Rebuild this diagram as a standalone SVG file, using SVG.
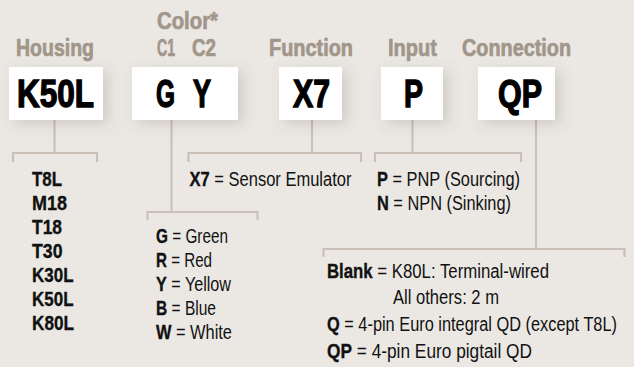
<svg xmlns="http://www.w3.org/2000/svg" width="634" height="367" viewBox="0 0 634 367">
<defs>
<filter id="sh" x="-40%" y="-60%" width="180%" height="220%">
<feGaussianBlur in="SourceAlpha" stdDeviation="7"/>
<feOffset dx="5" dy="4" result="b"/>
<feFlood flood-color="#6b5e50" flood-opacity="0.22"/>
<feComposite in2="b" operator="in"/>
<feMerge><feMergeNode/><feMergeNode in="SourceGraphic"/></feMerge>
</filter>
<style>
text{font-family:"Liberation Sans Narrow","Liberation Sans",Arial,sans-serif}
.hd{font-size:24px;font-weight:bold;fill:#a1968a;stroke:#a1968a;stroke-width:0.7}
.box{fill:#ffffff;filter:url(#sh)}
.code{font-size:39px;font-weight:bold;fill:#000;stroke:#000;stroke-width:1.4;text-anchor:middle}
.it{font-size:20px;fill:#111}
.b{font-weight:bold;stroke:#111;stroke-width:0.35}
.ln{fill:none;stroke:#c9c1b8;stroke-width:2.2}
</style>
</defs>
<rect width="634" height="367" fill="#ebe8e4"/>

<g id="connectors">
<path class="ln" d="M54.5 120V153M13 162V153H97V162"/>
<path class="ln" d="M171.5 120V212M147.5 220V212H257.5V220"/>
<path class="ln" d="M312 120V153M188.5 162V153H361V162"/>
<path class="ln" d="M412.5 120V153M375 162V153H521V162"/>
<path class="ln" d="M536 120V249M323.5 257V249H624.5V257"/>
</g>

<g id="housing">
<text class="hd" x="16" y="56" textLength="78" lengthAdjust="spacingAndGlyphs">Housing</text>
<rect class="box" x="9" y="67" width="94" height="53"/>
<text class="code" x="55.5" y="107" textLength="77" lengthAdjust="spacingAndGlyphs">K50L</text>
<text class="it b" x="32" y="186" textLength="30" lengthAdjust="spacingAndGlyphs">T8L</text>
<text class="it b" x="32" y="210" textLength="35" lengthAdjust="spacingAndGlyphs">M18</text>
<text class="it b" x="32" y="234" textLength="30" lengthAdjust="spacingAndGlyphs">T18</text>
<text class="it b" x="32" y="258" textLength="30.5" lengthAdjust="spacingAndGlyphs">T30</text>
<text class="it b" x="32" y="282" textLength="41.5" lengthAdjust="spacingAndGlyphs">K30L</text>
<text class="it b" x="32" y="306" textLength="41.5" lengthAdjust="spacingAndGlyphs">K50L</text>
<text class="it b" x="32" y="330" textLength="42" lengthAdjust="spacingAndGlyphs">K80L</text>
</g>

<g id="color">
<text class="hd" x="157" y="29" textLength="61" lengthAdjust="spacingAndGlyphs">Color*</text>
<text class="hd" x="157" y="56" textLength="18" lengthAdjust="spacingAndGlyphs">C1</text>
<text class="hd" x="192" y="56" textLength="24" lengthAdjust="spacingAndGlyphs">C2</text>
<rect class="box" x="132" y="67" width="106" height="53"/>
<text class="code" x="165.5" y="107" textLength="19" lengthAdjust="spacingAndGlyphs">G</text>
<text class="code" x="202" y="107" textLength="18" lengthAdjust="spacingAndGlyphs">Y</text>
<text class="it" x="156" y="243" textLength="72" lengthAdjust="spacingAndGlyphs"><tspan class="b">G</tspan> = Green</text>
<text class="it" x="156" y="267" textLength="56" lengthAdjust="spacingAndGlyphs"><tspan class="b">R</tspan> = Red</text>
<text class="it" x="156" y="291" textLength="75" lengthAdjust="spacingAndGlyphs"><tspan class="b">Y</tspan> = Yellow</text>
<text class="it" x="156" y="315" textLength="60" lengthAdjust="spacingAndGlyphs"><tspan class="b">B</tspan> = Blue</text>
<text class="it" x="156" y="339" textLength="76" lengthAdjust="spacingAndGlyphs"><tspan class="b">W</tspan> = White</text>
</g>

<g id="function">
<text class="hd" x="269" y="56" textLength="84" lengthAdjust="spacingAndGlyphs">Function</text>
<rect class="box" x="279" y="67" width="63" height="53"/>
<text class="code" x="311.5" y="107" textLength="37" lengthAdjust="spacingAndGlyphs">X7</text>
<text class="it" x="189.5" y="186" textLength="162" lengthAdjust="spacingAndGlyphs"><tspan class="b">X7</tspan> = Sensor Emulator</text>
</g>

<g id="input">
<text class="hd" x="388" y="56" textLength="49" lengthAdjust="spacingAndGlyphs">Input</text>
<rect class="box" x="381" y="67" width="62" height="53"/>
<text class="code" x="413.5" y="107" textLength="19" lengthAdjust="spacingAndGlyphs">P</text>
<text class="it" x="377" y="186" textLength="143" lengthAdjust="spacingAndGlyphs"><tspan class="b">P</tspan> = PNP (Sourcing)</text>
<text class="it" x="377" y="210" textLength="134" lengthAdjust="spacingAndGlyphs"><tspan class="b">N</tspan> = NPN (Sinking)</text>
</g>

<g id="connection">
<text class="hd" x="462" y="56" textLength="109" lengthAdjust="spacingAndGlyphs">Connection</text>
<rect class="box" x="478" y="67" width="77" height="53"/>
<text class="code" x="520" y="107" textLength="44" lengthAdjust="spacingAndGlyphs">QP</text>
<text class="it" x="327" y="278" textLength="222" lengthAdjust="spacingAndGlyphs"><tspan class="b">Blank</tspan> = K80L: Terminal-wired</text>
<text class="it" x="393" y="304" textLength="106" lengthAdjust="spacingAndGlyphs">All others: 2 m</text>
<text class="it" x="327" y="331" textLength="290" lengthAdjust="spacingAndGlyphs"><tspan class="b">Q</tspan> = 4-pin Euro integral QD (except T8L)</text>
<text class="it" x="327" y="358" textLength="205" lengthAdjust="spacingAndGlyphs"><tspan class="b">QP</tspan> = 4-pin Euro pigtail QD</text>
</g>
</svg>
